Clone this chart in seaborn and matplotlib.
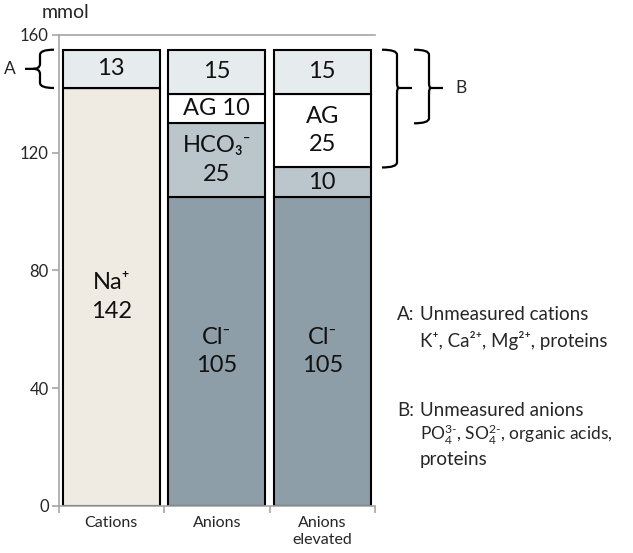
import numpy as np
import pandas as pd
import matplotlib
matplotlib.use('agg')
import matplotlib.pyplot as plt
from matplotlib.path import Path
from matplotlib.patches import PathPatch
import seaborn as sns

# data (mmol), stacked bottom -> top
groups = ['Cations', 'Anions', 'Anions\nelevated']
base = [142, 105, 105]          # Na+ / Cl-
hco3 = [0, 25, 10]
ag = [0, 10, 25]
unmeasured = [13, 15, 15]

base_labels = ['Na\u207a\n142', 'Cl\u207b\n105', 'Cl\u207b\n105']
hco3_labels = ['', 'HCO\u2083\u207b\n25', '10']
ag_labels = ['', 'AG 10', 'AG\n25']
unm_labels = ['13', '15', '15']

yticks = [0, 40, 80, 120, 160]

c_na = '#f2ebe0'
c_cl = '#8a9fac'
c_hco3 = '#b8c6cf'
c_ag = '#ffffff'
c_unm = '#e5ebee'

sns.set_theme(style='white')
plt.rcParams['font.family'] = ['Lato', 'DejaVu Sans']
plt.rcParams['mathtext.default'] = 'regular'

fig = plt.figure(figsize=(6.33, 5.53), dpi=100)
ax = fig.add_axes([58.5 / 633, 47 / 553, 316.5 / 633, 471 / 553])

bar_kw = dict(width=0.92, edgecolor='black', linewidth=1.5, ax=ax)
sns.barplot(x=groups, y=base, hue=groups, palette=[c_na, c_cl, c_cl], legend=False, **bar_kw)
b1 = np.array(base)
sns.barplot(x=groups, y=hco3, bottom=b1, color=c_hco3, **bar_kw)
b2 = b1 + np.array(hco3)
sns.barplot(x=groups, y=ag, bottom=b2, color=c_ag, **bar_kw)
b3 = b2 + np.array(ag)
sns.barplot(x=groups, y=unmeasured, bottom=b3, color=c_unm, **bar_kw)

ax.set_xlim(-0.5, 2.5)
ax.set_ylim(0, 160)
ax.set_yticks(yticks)
ax.set_xlabel('')
ax.set_ylabel('')

# segment labels
layers = [(np.zeros(3), base, base_labels), (b1, hco3, hco3_labels),
          (b2, ag, ag_labels), (b3, unmeasured, unm_labels)]
for bottoms, vals, labels in layers:
    for i, (b, v, lab) in enumerate(zip(bottoms, vals, labels)):
        if lab:
            ax.text(i, b + v / 2, lab, ha='center', va='center', fontsize=17,
                    linespacing=1.45, color='#111111')

# axes styling
ax.spines['right'].set_visible(False)
for s in ['left', 'bottom', 'top']:
    ax.spines[s].set_color('#a6a6a6')
    ax.spines[s].set_linewidth(1.2)
ax.tick_params(axis='y', which='major', direction='out', length=5, width=1.2,
               color='#a6a6a6', labelsize=12, pad=2, left=True)
ax.set_xticks([-0.5, 0.5, 1.5, 2.5], minor=True)
ax.tick_params(axis='x', which='minor', direction='out', length=5, width=1.2,
               color='#a6a6a6', bottom=True)
ax.tick_params(axis='x', which='major', length=0, labelsize=11.5, pad=7)
for t in ax.get_xticklabels():
    t.set_linespacing(1.3)
    t.set_va('top')

fig.text(42 / 633, 1 - 12 / 553, 'mmol', fontsize=14, va='center', ha='left')


# curly braces (drawn in display pixels)
def ypx(v):
    return ax.transData.transform((0, v))[1]


def brace(x_end, x_spine, x_tip, x_dash, y_top, y_bot, y_tip, r=5):
    verts = [(x_end, y_top), (x_spine, y_top), (x_spine, y_top - r),
             (x_spine, y_tip + r), (x_spine, y_tip), (x_tip, y_tip),
             (x_spine, y_tip), (x_spine, y_tip - r),
             (x_spine, y_bot + r), (x_spine, y_bot), (x_end, y_bot),
             (x_tip, y_tip), (x_dash, y_tip)]
    codes = [Path.MOVETO, Path.CURVE3, Path.CURVE3,
             Path.LINETO, Path.CURVE3, Path.CURVE3,
             Path.CURVE3, Path.CURVE3,
             Path.LINETO, Path.CURVE3, Path.CURVE3,
             Path.MOVETO, Path.LINETO]
    p = PathPatch(Path(verts, codes), facecolor='none', edgecolor='black',
                  linewidth=1.6, transform=None, clip_on=False)
    fig.add_artist(p)


H = 553
# A: unmeasured cations
brace(54, 40, 33, 25, ypx(b3[0] + unmeasured[0]), ypx(b3[0]),
      ypx(b3[0] + unmeasured[0] / 2))
fig.text(10 / 633, ypx(b3[0] + unmeasured[0] / 2) / H, 'A', fontsize=12.5,
         ha='center', va='center')
# B: anion gap + unmeasured anions
tip_b = ypx(base[0])
brace(382, 397, 399, 412, ypx(b3[2] + unmeasured[2]), ypx(b2[2]), tip_b)
brace(414, 429, 431, 443, ypx(b3[1] + unmeasured[1]), ypx(b2[1]), tip_b)
fig.text(461 / 633, tip_b / H, 'B', fontsize=12.5, ha='center', va='center')

# notes on the right
fs = 13.5
fig.text(397 / 633, 1 - 315 / H, 'A:', fontsize=fs, va='center')
fig.text(420 / 633, 1 - 315 / H, 'Unmeasured cations', fontsize=fs, va='center')
fig.text(420 / 633, 1 - 340 / H, 'K\u207a, Ca\u00b2\u207a, Mg\u00b2\u207a, proteins', fontsize=fs, va='center')
fig.text(397 / 633, 1 - 410 / H, 'B:', fontsize=fs, va='center')
fig.text(420 / 633, 1 - 410 / H, 'Unmeasured anions', fontsize=fs, va='center')
fig.text(420 / 633, 1 - 435 / H, 'PO$_4^{3\u2010}$, SO$_4^{2\u2010}$, organic acids,',
         fontsize=12.5, va='center')
fig.text(420 / 633, 1 - 459 / H, 'proteins', fontsize=fs, va='center')

fig.savefig('out.png', dpi=100)
